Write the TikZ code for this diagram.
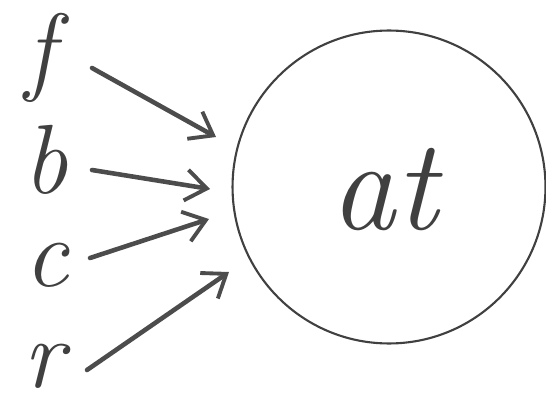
\documentclass[tikz,border=0pt]{standalone}
\usepackage{tikz}
\usetikzlibrary{arrows.meta}

\begin{document}
\begin{tikzpicture}[x = 0.02cm, y = -0.02cm,
    letter/.style = {inner sep = 0pt, text = black!75, font = \itshape\fontsize{56}{56}\selectfont},
    arr/.style = {draw = black!70, line width = 2.6pt, line cap = round,
        -{Straight Barb[length = 0.42cm, width = 0.62cm, line width = 2.2pt]}}]
        \useasboundingbox (0,0) rectangle (546,408);
        % the letters on the left
        \node[letter] (f) at (40,58) {f};
        \node[letter] (b) at (46,160) {b};
        \node[letter] (c) at (47,265) {c};
        \node[letter] (r) at (44,366) {r};
        % the circle
        \node[circle, draw = black!75, line width = 1.2pt, minimum size = 6.26cm] (at) at (389,187) {};
        \node[letter, font = \itshape\fontsize{74}{74}\selectfont] (atext) at (384,190) {at};
        % arrows from the letters to the circle
        \coordinate (ft) at (92,68);
        \coordinate (fh) at (216,137);
        \coordinate (bt) at (92,170);
        \coordinate (bh) at (210,189);
        \coordinate (ct) at (90,258);
        \coordinate (ch) at (209,219);
        \coordinate (rt) at (87,370);
        \coordinate (rh) at (229,272);
        \draw[arr] (ft) -- (fh);
        \draw[arr] (bt) -- (bh);
        \draw[arr] (ct) -- (ch);
        \draw[arr] (rt) -- (rh);
    \end{tikzpicture}
\end{document}
